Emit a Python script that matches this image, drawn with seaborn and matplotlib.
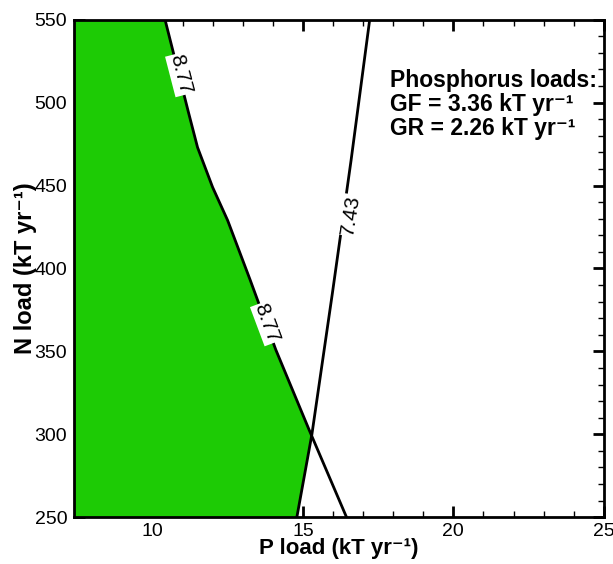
import numpy as np
import pandas as pd
import matplotlib
matplotlib.use("Agg")
import matplotlib.pyplot as plt
import seaborn as sns

sns.set_theme(style="ticks")
plt.rcParams['font.family'] = ['Liberation Sans', 'DejaVu Sans']
plt.rcParams['text.color'] = 'black'
plt.rcParams['axes.labelcolor'] = 'black'

# contour lines (P load, N load)
p_877 = [10.42, 11.2, 11.5, 12.0, 12.5, 13.25, 14.1, 15.2, 16.45]
n_877 = [550, 494, 473, 449, 429, 393, 351, 303, 250]
p_743 = [14.8, 15.3, 15.98, 16.6, 17.22]
n_743 = [250, 300, 385, 465, 550]
cross_p, cross_n = 15.28, 301

# annotation text
info_lines = ["Phosphorus loads:",
              "GF = 3.36 kT yr\u207b\u00b9",
              "GR = 2.26 kT yr\u207b\u00b9"]
info_y = [509.3, 495.0, 480.7]

df877 = pd.DataFrame({"P": p_877, "N": n_877})
df743 = pd.DataFrame({"P": p_743, "N": n_743})

green = "#1dcb05"

fig, ax = plt.subplots(figsize=(6.13, 5.64), dpi=100)
fig.subplots_adjust(left=0.121, right=0.985, bottom=0.083, top=0.965)

# green feasible region: left of 7.43 below the crossing, left of 8.77 above
lo = df743[df743.N < cross_n].sort_values("N")
hi = df877[df877.N > cross_n].sort_values("N")
bx = np.concatenate([lo.P.values, [cross_p], hi.P.values])
by = np.concatenate([lo.N.values, [cross_n], hi.N.values])
ax.fill_betweenx(by, 0, bx, color=green, lw=0, zorder=1)

sns.lineplot(data=df877, x="P", y="N", sort=False, estimator=None,
             color="black", lw=2, ax=ax, zorder=2)
sns.lineplot(data=df743, x="P", y="N", sort=False, estimator=None,
             color="black", lw=2, ax=ax, zorder=2)

# contour labels
lab_kw = dict(ha="center", va="center", fontsize=15, zorder=3,
              bbox=dict(facecolor="white", edgecolor="none", pad=0.5))
ax.text(10.92, 517, "8.77", rotation=-75.5, **lab_kw)
ax.text(13.8, 367, "8.77", rotation=-69.5, **lab_kw)
ax.text(16.6, 432, "7.43", rotation=81, **lab_kw)

for txt, yy in zip(info_lines, info_y):
    ax.text(17.88, yy, txt, ha="left", va="baseline", fontsize=16.5,
            fontweight="bold", zorder=4)

ax.set_xlim(7.4, 25)
ax.set_ylim(250, 550)
ax.set_xticks([10, 15, 20, 25])
ax.set_yticks([250, 300, 350, 400, 450, 500, 550])
ax.set_xticks(np.arange(8, 25, 1), minor=True)
ax.set_yticks(np.arange(250, 551, 10), minor=True)
ax.tick_params(which="both", direction="in", top=True, right=True,
               labelsize=14, pad=5, color="black", labelcolor="black")
ax.tick_params(axis="x", pad=4)
ax.tick_params(which="major", length=8, width=2)
ax.tick_params(which="minor", length=4, width=1)
for s in ax.spines.values():
    s.set_linewidth(2)
    s.set_color("black")
    s.set_zorder(5)

ax.set_xlabel("P load (kT yr\u207b\u00b9)", fontsize=16,
              fontweight="bold", labelpad=-1)
ax.set_ylabel("N load (kT yr\u207b\u00b9)", fontsize=17,
              fontweight="bold", labelpad=-2)

fig.savefig("out.png", dpi=100)
